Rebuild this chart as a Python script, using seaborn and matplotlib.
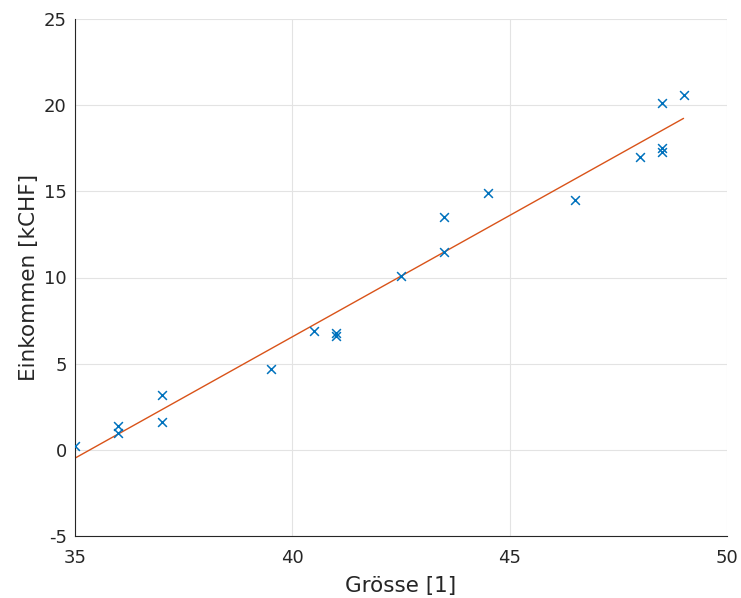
import numpy as np
import matplotlib
matplotlib.use("Agg")
import matplotlib.pyplot as plt
import seaborn as sns

# Messwerte: Grösse vs. Einkommen
groesse = [35, 36, 36, 37, 37, 39.5, 40.5, 41, 41, 42.5, 43.5, 43.5, 44.5,
           46.5, 48, 48.5, 48.5, 48.5, 49]
einkommen = [0.2, 1.4, 1.0, 3.2, 1.6, 4.7, 6.9, 6.8, 6.6, 10.1, 13.5, 11.5, 14.9,
             14.5, 17.0, 20.1, 17.5, 17.3, 20.6]

x_ticks = [35, 40, 45, 50]
y_ticks = [-5, 0, 5, 10, 15, 20, 25]

sns.set_style("white")
plt.rcParams["font.family"] = ["DejaVu Sans"]
plt.rcParams["axes.unicode_minus"] = False

fig = plt.figure(figsize=(7.41, 5.98), dpi=100)
ax = fig.add_axes([75 / 741, 1 - 536 / 598, (727 - 75) / 741, (536 - 19) / 598])

sns.scatterplot(x=groesse, y=einkommen, marker="x", color="#0072BD", s=40,
                linewidth=1.1, ax=ax, zorder=3)

# lineare Regression
slope, intercept = np.polyfit(groesse, einkommen, 1)
x_fit = np.array([min(groesse), max(groesse)])
sns.lineplot(x=x_fit, y=slope * x_fit + intercept, color="#D95319", linewidth=1.0,
             ax=ax, zorder=2)

ax.set_xlim(35, 50)
ax.set_ylim(-5, 25)
ax.set_xticks(x_ticks)
ax.set_yticks(y_ticks)
ax.grid(True, color="#e3e3e3", linewidth=0.8)
ax.set_axisbelow(True)
for side in ["top", "right"]:
    ax.spines[side].set_visible(False)
for side in ["left", "bottom"]:
    ax.spines[side].set_color("#262626")
    ax.spines[side].set_linewidth(0.8)
ax.tick_params(direction="in", length=4, width=0.8, colors="#262626",
               labelsize=13)
ax.tick_params(axis="x", pad=9.5)
ax.tick_params(axis="y", pad=6)

ax.set_xlabel("Grösse [1]", fontsize=15.5, color="#262626", labelpad=6)
ax.set_ylabel("Einkommen [kCHF]", fontsize=15.5, color="#262626", labelpad=3)

fig.savefig("out.png", dpi=100)
